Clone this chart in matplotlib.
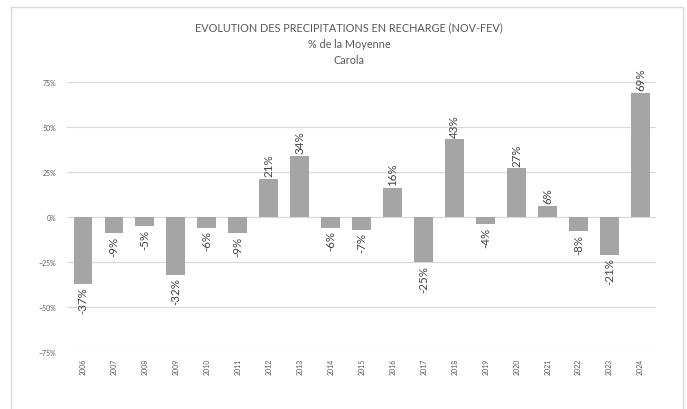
import matplotlib.pyplot as plt
from matplotlib.patches import Rectangle
from matplotlib.ticker import PercentFormatter

plt.rcParams['font.family'] = ['Lato', 'DejaVu Sans']

years = ['2006', '2007', '2008', '2009', '2010', '2011', '2012', '2013', '2014', '2015',
         '2016', '2017', '2018', '2019', '2020', '2021', '2022', '2023', '2024']
values = [-37, -9, -5, -32, -6, -9, 21, 34, -6, -7,
          16, -25, 43, -4, 27, 6, -8, -21, 69]

bar_color = '#a5a5a5'
text_color = '#595959'

fig = plt.figure(figsize=(6.87, 4.10), dpi=100)
ax = fig.add_axes([0.098, 0.139, 0.857, 0.659])

x = range(len(years))
ax.bar(x, values, width=0.6, color=bar_color, zorder=3)

# data labels, rotated, outside the end of each bar
for i, v in enumerate(values):
    off = 1.5 if v >= 0 else -1.5
    ax.text(i, v + off, f'{v}%', rotation=90, ha='center',
            va='bottom' if v >= 0 else 'top', fontsize=8.3, color='#404040')

ax.set_xlim(-0.5, len(years) - 0.5)
ax.set_ylim(-75, 75)
ax.set_yticks([-75, -50, -25, 0, 25, 50, 75])
ax.yaxis.set_major_formatter(PercentFormatter(decimals=0))
ax.set_xticks(list(x))
ax.set_xticklabels(years, rotation=90, fontsize=5, color=text_color)
ax.tick_params(axis='y', labelsize=5, colors=text_color, length=0, pad=8)
ax.tick_params(axis='x', length=0, pad=4)
ax.grid(axis='y', color='#d9d9d9', linewidth=0.8, zorder=0)
for s in ax.spines.values():
    s.set_visible(False)

fig.text(0.508, 0.932, 'EVOLUTION DES PRECIPITATIONS EN RECHARGE (NOV-FEV)',
         ha='center', va='center', fontsize=7.8, color=text_color)
fig.text(0.508, 0.891, '% de la Moyenne', ha='center', va='center',
         fontsize=7.8, color=text_color)
fig.text(0.508, 0.853, 'Carola', ha='center', va='center',
         fontsize=7.8, color=text_color)

# light chart border
fig.add_artist(Rectangle((11 / 687, -0.05), 672 / 687, 1.05 - 8 / 410,
                         transform=fig.transFigure, fill=False,
                         edgecolor='#d9d9d9', linewidth=1))

fig.savefig('out.png', dpi=100)
